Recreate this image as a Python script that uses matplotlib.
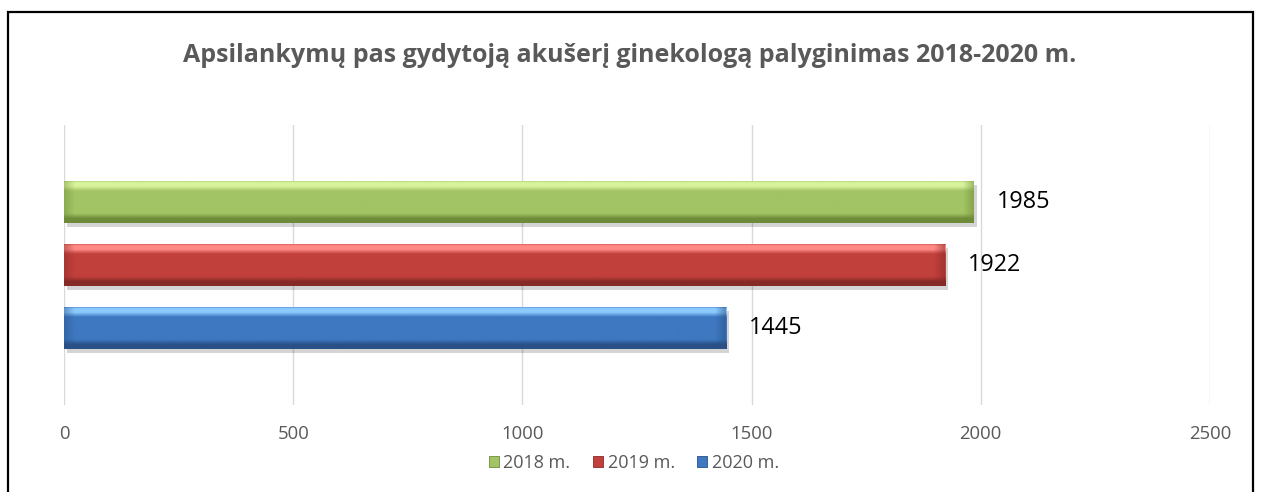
import matplotlib
matplotlib.use("Agg")
import matplotlib.pyplot as plt
import numpy as np
from matplotlib.patches import Rectangle, Patch
from matplotlib.colors import LinearSegmentedColormap, to_rgb
import matplotlib.patheffects as pe

title = "Apsilankymų pas gydytoją akušerį ginekologą palyginimas 2018-2020 m."
series = ["2018 m.", "2019 m.", "2020 m."]
values = [1985, 1922, 1445]
xticks = [0, 500, 1000, 1500, 2000, 2500]

base_colors = ["#A3C464", "#C2403C", "#3E78C0"]
light_colors = ["#D8F39C", "#FF8A86", "#8CCBFF"]
dark_colors = ["#6E8B3A", "#862A27", "#2A5087"]

plt.rcParams['font.family'] = ['Open Sans', 'DejaVu Sans']

W, H = 1261, 492
fig = plt.figure(figsize=(W / 100, H / 100), dpi=100)
fig.patch.set_facecolor("white")

# outer frame
fig.add_artist(Rectangle((8 / W, -0.1), (1253 - 8) / W, (H - 12) / H + 0.1,
                         transform=fig.transFigure, fill=False,
                         edgecolor="black", linewidth=1.6))

ax = fig.add_axes([64 / W, (H - 405) / H, (1210 - 64) / W, (405 - 125) / H])
ax.set_xlim(0, 2500)
positions = [1, 0, -1]
ax.set_ylim(-2.22, 2.22)

bars = ax.barh(positions, values, height=0.667, color=base_colors, zorder=3)
for b in bars:
    b.set_path_effects([pe.SimplePatchShadow(offset=(2, -3), shadow_rgbFace="#000000", alpha=0.17),
                        pe.Normal()])

units_per_px = 2500 / (1210 - 64)
bevel = 11 * units_per_px

for i, (b, lc, bc, dc) in enumerate(zip(bars, light_colors, base_colors, dark_colors)):
    cmap = LinearSegmentedColormap.from_list(
        "g", [(0, dc), (0.10, dc), (0.22, bc), (0.75, bc), (0.86, lc), (0.95, lc), (1, bc)])
    grad = np.linspace(0, 1, 100).reshape(-1, 1)
    x0, y0 = b.get_x(), b.get_y()
    w, h = b.get_width(), b.get_height()
    im = ax.imshow(grad, cmap=cmap, aspect="auto", origin="lower",
                   extent=[x0, x0 + w, y0, y0 + h], zorder=4, interpolation="bilinear")
    im.set_clip_path(b)
    # end bevels: shaded on left and right ends
    n = 50
    drgb = np.array(to_rgb(dc))
    left = np.zeros((1, n, 4))
    left[..., :3] = drgb
    left[..., 3] = np.linspace(0.45, 0.0, n)
    ax.imshow(left, aspect="auto", extent=[x0, x0 + bevel, y0, y0 + h],
              zorder=5, interpolation="bilinear").set_clip_path(b)
    right = np.zeros((1, n, 4))
    right[..., :3] = drgb
    right[..., 3] = np.linspace(0.0, 0.55, n)
    ax.imshow(right, aspect="auto", extent=[x0 + w - bevel, x0 + w, y0, y0 + h],
              zorder=5, interpolation="bilinear").set_clip_path(b)
    ax.annotate(str(values[i]), xy=(x0 + w, y0 + h / 2),
                xytext=(23, 0), textcoords="offset pixels", ha="left",
                va="center", fontsize=16.8, color="black", zorder=6)

ax.set_xticks(xticks)
ax.set_xticklabels([str(t) for t in xticks], fontsize=13.3, color="#595959")
ax.set_yticks([])
ax.tick_params(axis="x", length=0, pad=14.5)
ax.grid(axis="x", color="#D9D9D9", linewidth=1, zorder=0)
for s in ax.spines.values():
    s.set_visible(False)
ax.set_facecolor("none")

fig.text((183 + 1077) / 2 / W, 1 - 55 / H, title, ha="center", va="center",
         fontsize=18, fontweight="bold", color="#595959")

handles = [Patch(facecolor=c, edgecolor=d, linewidth=0.6) for c, d in zip(base_colors, dark_colors)]
leg = fig.legend(handles, series, loc="center", bbox_to_anchor=(634 / W, 1 - 463 / H),
                 ncol=3, frameon=False, fontsize=13, handlelength=0.55, handleheight=0.55,
                 handletextpad=0.25, columnspacing=1.25, labelcolor="#595959",
                 borderpad=0, borderaxespad=0)

fig.savefig("out.png", dpi=100, facecolor="white")
